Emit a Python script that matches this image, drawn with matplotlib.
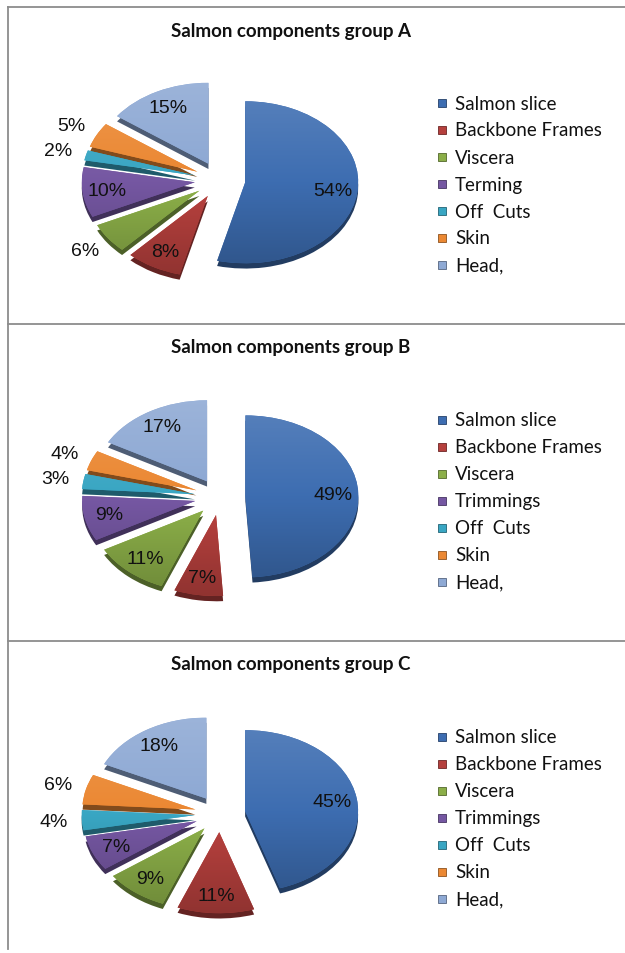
import matplotlib

matplotlib.use("Agg")
import matplotlib.pyplot as plt
import numpy as np
from matplotlib.colors import LinearSegmentedColormap, to_rgb
from matplotlib.patches import Rectangle

# --- data ---
groups = ["A", "B", "C"]
labels_a = ["Salmon slice", "Backbone Frames", "Viscera", "Terming", "Off  Cuts", "Skin", "Head,"]
labels_bc = ["Salmon slice", "Backbone Frames", "Viscera", "Trimmings", "Off  Cuts", "Skin", "Head,"]
values_a = [54, 8, 6, 10, 2, 5, 15]
values_b = [49, 7, 11, 9, 3, 4, 17]
values_c = [45, 11, 9, 7, 4, 6, 18]
colors = ["#3D6DB1", "#B5403D", "#8BAE48", "#7557A2", "#39A6C3", "#EB8833", "#8EA9D4"]

W, H = 625, 954
PANEL_TOPS = [8, 325, 642]
CX, CY_OFF = 220, 173          # pie centre inside a panel (px)
RX, RY = 113, 81               # pie radius (px), tilted -> ellipse
LIM = 1.55
EXPLODE = 0.225
DEPTH = 0.065
BORDER = "#8c8c8c"


def shade(c, f):
    r, g, b = to_rgb(c)
    if f < 1:
        return (r * f, g * f, b * f)
    return (r + (1 - r) * (f - 1), g + (1 - g) * (f - 1), b + (1 - b) * (f - 1))


def draw_pie(ax, values):
    explode = [EXPLODE] * len(values)
    side, _ = ax.pie(values, explode=explode, startangle=90, counterclock=False,
                     colors=[shade(c, 0.55) for c in colors], center=(0, -DEPTH),
                     wedgeprops=dict(linewidth=0))
    top, _ = ax.pie(values, explode=explode, startangle=90, counterclock=False,
                    colors=colors, wedgeprops=dict(linewidth=0))
    # light at the top of each slice, darker towards the bottom
    grad = np.linspace(0, 1, 64).reshape(-1, 1)
    for w, c, v in zip(top, colors, values):
        cmap = LinearSegmentedColormap.from_list("g", [shade(c, 0.8), c, shade(c, 1.12)])
        x0, y0 = w.center[0] - 1, w.center[1] - 1
        im = ax.imshow(grad, cmap=cmap, extent=(x0, x0 + 2, y0, y0 + 2),
                       aspect="auto", origin="lower", zorder=w.get_zorder() + 0.1,
                       interpolation="bilinear")
        im.set_clip_path(w)
        mid = np.deg2rad((w.theta1 + w.theta2) / 2)
        r = 0.78 if v >= 7 else 1.25
        ax.text(w.center[0] + r * np.cos(mid), w.center[1] + r * np.sin(mid), f"{v}%",
                ha="center", va="center", fontsize=14, family="Liberation Sans",
                color="#111111", zorder=10)
    ax.set_xlim(-LIM, LIM)
    ax.set_ylim(-LIM, LIM)
    ax.set_aspect("auto")
    ax.axis("off")


fig = plt.figure(figsize=(W / 100, H / 100), dpi=100)
bg = fig.add_axes([0, 0, 1, 1])
bg.set_xlim(0, W)
bg.set_ylim(H, 0)
bg.axis("off")

# panel frames
bg.plot([7.5, 7.5], [8, H - 4], color=BORDER, lw=1.3)
for t in PANEL_TOPS:
    bg.plot([7.5, W], [t, t], color=BORDER, lw=1.3)

for g, top, vals, labs in zip(groups, PANEL_TOPS, [values_a, values_b, values_c],
                              [labels_a, labels_bc, labels_bc]):
    bg.text(291, top + 23, f"Salmon components group {g}", ha="center", va="center",
            fontsize=13.5, fontweight="bold", family="Lato", color="#111111")
    ax = fig.add_axes([(CX - LIM * RX) / W, 1 - (top + CY_OFF + LIM * RY) / H,
                       2 * LIM * RX / W, 2 * LIM * RY / H])
    draw_pie(ax, vals)
    for j, (lab, c) in enumerate(zip(labs, colors)):
        y = top + 96 + 27 * j
        bg.add_patch(Rectangle((438, y - 4), 8, 8, facecolor=c, edgecolor=shade(c, 0.6), lw=0.6))
        bg.text(455, y, lab, ha="left", va="center", fontsize=13.5, family="Lato", color="#111111")

fig.savefig("out.png", dpi=100)
